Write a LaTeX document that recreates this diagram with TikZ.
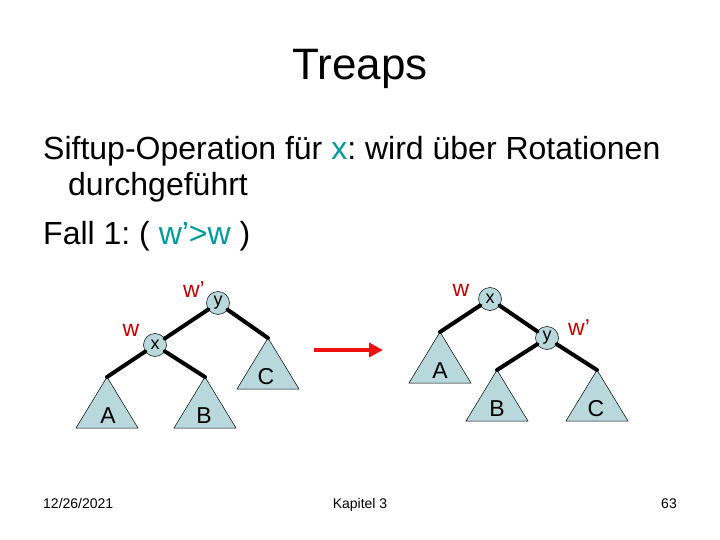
\documentclass[tikz,border=0pt]{standalone}
\usepackage{fontspec}
\setmainfont{Liberation Sans}
\usepackage{xcolor}
\usetikzlibrary{positioning, arrows.meta, calc}
\definecolor{accTeal}{HTML}{009999}
\definecolor{accRed}{HTML}{C00000}
\definecolor{arrowRed}{HTML}{EE1111}
\definecolor{nodeFill}{HTML}{B8D8DC}
\newcommand{\fs}[1]{\fontsize{#1}{1.2\dimexpr#1pt\relax}\selectfont}
\frenchspacing

\begin{document}
\begin{tikzpicture}[x=1pt, y=-1pt,
  every node/.style={inner sep=0pt},
  keynode/.style={circle, draw=black, line width=0.5pt, fill=nodeFill,
                  minimum size=23pt, inner sep=0pt, font=\fs{18}},
  subtree/.style={draw=black, line width=0.5pt, fill=nodeFill},
  treelbl/.style={font=\fs{23}},
  edge/.style={draw=black, line width=4pt, line cap=round},
  prio/.style={font=\fs{23}, text=accRed},
  bodyline/.style={anchor=base west, font=\fs{32}},
  foot/.style={font=\fs{14}, anchor=base},
  rotarrow/.style={-{Triangle[length=14pt, width=14pt]}, arrowRed, line width=4pt},
]
  \useasboundingbox (0,0) rectangle (720,540);

  % ═══ Title and text ═══
  \node[anchor=base, font=\fs{44}] (title) at (360,80) {Treaps};
  \node[bodyline] (line1) at (43,160)
        {Siftup-Operation für \textcolor{accTeal}{x}: wird über Rotationen};
  \node[bodyline] (line2) at (68,196) {durchgeführt};
  \node[bodyline] (line3) at (43,244)
        {Fall 1: ( \textcolor{accTeal}{w’>w} )};

  % ═══ Left tree: y is root, x its left child ═══
  \node[keynode] (ly) at (218,303) {y};
  \node[keynode] (lx) at (155,345) {x};
  \node[prio] (lwy) at (194,290) {w’};
  \node[prio] (lwx) at (131,330) {w};

  \coordinate (lA) at (107,377);
  \coordinate (lB) at (205,377);
  \coordinate (lC) at (268,338);
  \draw[subtree] (lA) -- ++(-31,51) -- ++(62,0) -- cycle;
  \draw[subtree] (lB) -- ++(-31,51) -- ++(62,0) -- cycle;
  \draw[subtree] (lC) -- ++(-31,51) -- ++(62,0) -- cycle;
  \node[treelbl] (lAl) at (108,416) {A};
  \node[treelbl] (lBl) at (204,416) {B};
  \node[treelbl] (lCl) at (266,377) {C};

  \draw[edge] (ly) -- (lx);
  \draw[edge] (ly) -- (lC);
  \draw[edge] (lx) -- (lA);
  \draw[edge] (lx) -- (lB);

  % ═══ Rotation arrow ═══
  \coordinate (rotS) at (314,350);
  \coordinate (rotE) at (383,350);
  \draw[rotarrow] (rotS) -- (rotE);

  % ═══ Right tree: x is root, y its right child ═══
  \node[keynode] (rx) at (490,299) {x};
  \node[keynode] (ry) at (547,338) {y};
  \node[prio] (rwx) at (461,290) {w};
  \node[prio] (rwy) at (579,328) {w’};

  \coordinate (rA) at (440,332);
  \coordinate (rB) at (497,370);
  \coordinate (rC) at (597,370);
  \draw[subtree] (rA) -- ++(-31,51) -- ++(62,0) -- cycle;
  \draw[subtree] (rB) -- ++(-31,51) -- ++(62,0) -- cycle;
  \draw[subtree] (rC) -- ++(-31,51) -- ++(62,0) -- cycle;
  \node[treelbl] (rAl) at (440,371) {A};
  \node[treelbl] (rBl) at (497,409) {B};
  \node[treelbl] (rCl) at (596,409) {C};

  \draw[edge] (rx) -- (rA);
  \draw[edge] (rx) -- (ry);
  \draw[edge] (ry) -- (rB);
  \draw[edge] (ry) -- (rC);

  % ═══ Footer ═══
  \node[foot, anchor=base west] (date) at (43,508) {12/26/2021};
  \node[foot] (chap) at (360,508) {Kapitel 3};
  \node[foot, anchor=base east] (page) at (677,508) {63};
\end{tikzpicture}
\end{document}
